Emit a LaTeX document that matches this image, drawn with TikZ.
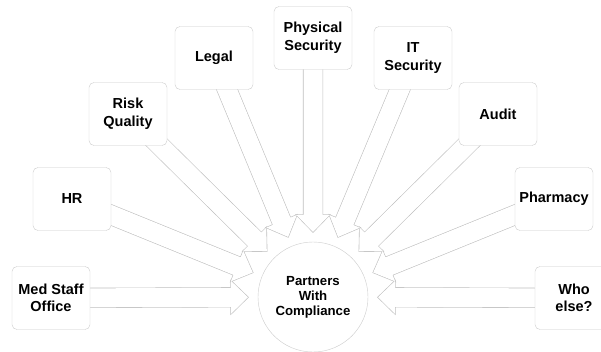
\documentclass[tikz,border=0pt]{standalone}
\usepackage{fontspec}
\setmainfont{Liberation Sans}
\usetikzlibrary{calc,backgrounds}

\begin{document}
\begin{tikzpicture}[x=1pt,y=-1pt,
    partner/.style={draw=gray!40,fill=white,rounded corners=5pt,minimum width=78pt,minimum height=63pt,
      inner sep=2pt,align=center,font=\fontsize{14.5}{17.5}\selectfont\bfseries},
    hub/.style={circle,draw=gray!40,fill=white,minimum size=110pt,inner sep=0pt,
      align=center,font=\fontsize{13.2}{15}\selectfont\bfseries},
    arrowrim/.style={draw=gray!50,line width=1.2pt,line join=miter},
    arrowface/.style={fill=white}]
  \useasboundingbox (0,0) rectangle (601,352);
  \node[hub] (core) at (313,297) {Partners\\With\\Compliance};
  \node[partner] (med) at (51,298) {Med Staff\\Office};
  \node[partner] (hr) at (72,199) {HR};
  \node[partner] (risk) at (128,114) {Risk\\Quality};
  \node[partner] (legal) at (214,58) {Legal};
  \node[partner] (phys) at (313,38) {Physical\\Security};
  \node[partner] (it) at (413,58) {IT\\Security};
  \node[partner] (audit) at (498,114) {Audit};
  \node[partner] (pharm) at (554,199) {Pharmacy};
  \node[partner] (who) at (574,298) {Who\\else?};
  % block arrows run from each box in towards the circle;
  % rims first, then the white faces, so overlapping heads merge
  \begin{scope}[on background layer]
    \foreach \look in {arrowrim,arrowface}
      \foreach \src in {med,hr,risk,legal,phys,it,audit,pharm,who}
        \path[\look] let \p1=(\src), \p2=(core),
            \n1={atan2(\y1-\y2,\x1-\x2)}, \n2={veclen(\x1-\x2,\y1-\y2)} in
          [shift={(core)},rotate=\n1] (65,0) -- (82,16.5) -- (82,9.5) -- (\n2,9.5)
          -- (\n2,-9.5) -- (82,-9.5) -- (82,-16.5) -- cycle;
  \end{scope}
\end{tikzpicture}
\end{document}
